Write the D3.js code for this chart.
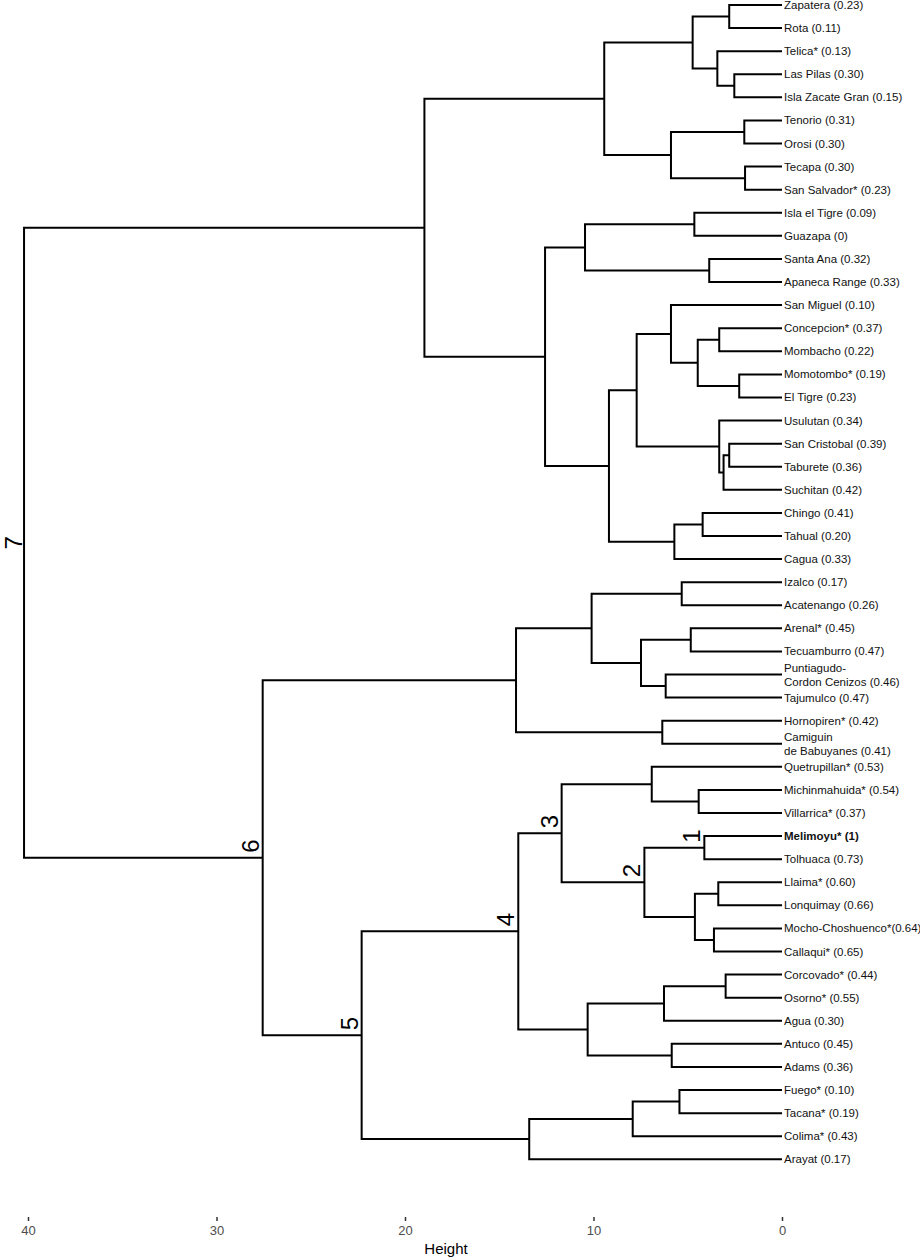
<!DOCTYPE html>
<html>
<head>
<meta charset="utf-8">
<script src="https://cdn.jsdelivr.net/npm/d3@7"></script>
<style>
  body { margin: 0; background: #fff; }
  svg { display: block; font-family: "Liberation Sans", Arial, sans-serif; }
</style>
</head>
<body>
<script>
// leaves, top to bottom ("\n" = label wraps on two lines)
var leafNames = [
  "Zapatera", "Rota", "Telica*", "Las Pilas", "Isla Zacate Gran",
  "Tenorio", "Orosi", "Tecapa", "San Salvador*",
  "Isla el Tigre", "Guazapa", "Santa Ana", "Apaneca Range",
  "San Miguel", "Concepcion*", "Mombacho", "Momotombo*", "El Tigre",
  "Usulutan", "San Cristobal", "Taburete", "Suchitan",
  "Chingo", "Tahual", "Cagua",
  "Izalco", "Acatenango", "Arenal*", "Tecuamburro",
  "Puntiagudo-\nCordon Cenizos", "Tajumulco", "Hornopiren*", "Camiguin\nde Babuyanes",
  "Quetrupillan*", "Michinmahuida*", "Villarrica*", "Melimoyu*", "Tolhuaca",
  "Llaima*", "Lonquimay", "Mocho-Choshuenco*", "Callaqui*",
  "Corcovado*", "Osorno*", "Agua", "Antuco", "Adams",
  "Fuego*", "Tacana*", "Colima*", "Arayat"
];
var leafValues = [
  0.23, 0.11, 0.13, 0.30, 0.15,
  0.31, 0.30, 0.30, 0.23,
  0.09, 0, 0.32, 0.33,
  0.10, 0.37, 0.22, 0.19, 0.23,
  0.34, 0.39, 0.36, 0.42,
  0.41, 0.20, 0.33,
  0.17, 0.26, 0.45, 0.47,
  0.46, 0.47, 0.42, 0.41,
  0.53, 0.54, 0.37, 1, 0.73,
  0.60, 0.66, 0.64, 0.65,
  0.44, 0.55, 0.30, 0.45, 0.36,
  0.10, 0.19, 0.43, 0.17
];
var boldLeaves = ["Melimoyu*"];
var noSpaceLeaves = ["Mocho-Choshuenco*"];

// merges [left, right, height]: a number is a leaf index, "mN" is merge row N
var merges = [
  [0, 1, 2.80],          // m0
  [3, 4, 2.53],          // m1
  [2, "m1", 3.43],       // m2
  ["m0", "m2", 4.74],    // m3
  [5, 6, 2.00],          // m4
  [7, 8, 1.96],          // m5
  ["m4", "m5", 5.89],    // m6
  ["m3", "m6", 9.43],    // m7
  [9, 10, 4.65],         // m8
  [11, 12, 3.86],        // m9
  ["m8", "m9", 10.45],   // m10
  [14, 15, 3.33],        // m11
  [16, 17, 2.27],        // m12
  ["m11", "m12", 4.47],  // m13
  [13, "m13", 5.89],     // m14
  [19, 20, 2.80],        // m15
  ["m15", 21, 3.10],     // m16
  [18, "m16", 3.33],     // m17
  ["m14", "m17", 7.71],  // m18
  [22, 23, 4.21],        // m19
  ["m19", 24, 5.71],     // m20
  ["m18", "m20", 9.18],  // m21
  ["m10", "m21", 12.57], // m22
  ["m7", "m22", 18.97],  // m23
  [25, 26, 5.32],        // m24
  [27, 28, 4.84],        // m25
  [29, 30, 6.17],        // m26
  ["m25", "m26", 7.48],  // m27
  ["m24", "m27", 10.10], // m28
  [31, 32, 6.35],        // m29
  ["m28", "m29", 14.11], // m30
  [34, 35, 4.42],        // m31
  [33, "m31", 6.91],     // m32
  [36, 37, 4.12],        // m33
  [38, 39, 3.38],        // m34
  [40, 41, 3.61],        // m35
  ["m34", "m35", 4.62],  // m36
  ["m33", "m36", 7.30],  // m37
  ["m32", "m37", 11.69], // m38
  [42, 43, 2.99],        // m39
  ["m39", 44, 6.26],     // m40
  [45, 46, 5.85],        // m41
  ["m40", "m41", 10.31], // m42
  ["m38", "m42", 13.99], // m43
  [47, 48, 5.44],        // m44
  ["m44", 49, 7.92],     // m45
  ["m45", 50, 13.41],    // m46
  ["m43", "m46", 22.30], // m47
  ["m30", "m47", 27.55], // m48
  ["m23", "m48", 40.21]  // m49
];

// numbered clusters
var clusterRefs = ["m33", "m37", "m38", "m43", "m47", "m48", "m49"];
var clusterNames = ["1", "2", "3", "4", "5", "6", "7"];

var heightTicks = [40, 30, 20, 10, 0];

var width = 920, height = 1260;

var x = d3.scaleLinear().domain([40, 0]).range([28, 782]);
var y = d3.scalePoint().domain(d3.range(leafNames.length)).range([5, 1159.3]);

var svg = d3.select("body").append("svg")
    .attr("width", width)
    .attr("height", height);

function fmt(v) {
  return (v === 0 || v === 1) ? String(v) : v.toFixed(2);
}

// work out node positions, then draw one elbow per merge
var nodes = {};
function pos(ref) {
  if (typeof ref === "number") return { x: x(0), y: y(ref) };
  return nodes[ref];
}

var elbow = d3.line().curve(d3.curveLinear);
var links = svg.append("g")
    .attr("fill", "none")
    .attr("stroke", "#000")
    .attr("stroke-width", 2);

merges.forEach(function(m, i) {
  var a = pos(m[0]), b = pos(m[1]);
  var nx = x(m[2]);
  nodes["m" + i] = { x: nx, y: (a.y + b.y) / 2 };
  links.append("path")
      .attr("d", elbow([[a.x, a.y], [nx, a.y], [nx, b.y], [b.x, b.y]]));
});

// leaf labels
var labels = svg.append("g")
    .attr("font-size", "11.5px")
    .attr("fill", "#111");

leafNames.forEach(function(name, i) {
  var sep = noSpaceLeaves.indexOf(name) >= 0 ? "" : " ";
  var lines = (name + sep + "(" + fmt(leafValues[i]) + ")").split("\n");
  var t = labels.append("text")
      .attr("x", x(0) + 2)
      .attr("y", y(i))
      .attr("font-weight", boldLeaves.indexOf(name) >= 0 ? "bold" : null);
  lines.forEach(function(line, k) {
    t.append("tspan")
        .attr("x", x(0) + 2)
        .attr("y", y(i) + (k - (lines.length - 1) / 2) * 14)
        .attr("dy", "0.35em")
        .text(line);
  });
});

// cluster numbers, rotated next to their node
clusterRefs.forEach(function(ref, i) {
  var n = nodes[ref];
  var isRoot = ref === "m" + (merges.length - 1);
  svg.append("text")
      .attr("transform", "translate(" + (isRoot ? n.x - 2 : n.x - 4) + "," + (isRoot ? n.y : n.y - 5) + ") rotate(-90)")
      .attr("text-anchor", isRoot ? "middle" : "start")
      .attr("font-size", "24px")
      .attr("fill", "#000")
      .text(clusterNames[i]);
});

// x axis, no domain line
var axis = svg.append("g")
    .attr("transform", "translate(0,1217)")
    .call(d3.axisBottom(x).tickValues(heightTicks).tickSize(4).tickPadding(5));
axis.select(".domain").remove();
axis.selectAll(".tick line").attr("stroke", "#333").attr("stroke-width", 1.5);
axis.selectAll(".tick text")
    .attr("font-size", "13px")
    .attr("font-family", "\"Liberation Sans\", Arial, sans-serif")
    .attr("fill", "#4d4d4d");

svg.append("text")
    .attr("x", 446)
    .attr("y", 1254)
    .attr("text-anchor", "middle")
    .attr("font-size", "15px")
    .attr("fill", "#000")
    .text("Height");
</script>
</body>
</html>
